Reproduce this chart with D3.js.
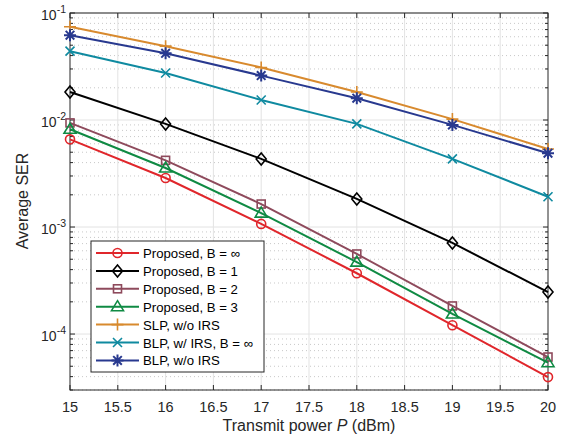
<!DOCTYPE html>
<html><head><meta charset="utf-8">
<script src="https://cdn.jsdelivr.net/npm/d3@7"></script>
<style>body{margin:0;background:#fff;} text{font-family:Arial,"Liberation Sans",sans-serif;}</style>
</head><body>
<svg id="c" width="566" height="441"></svg>
<script>
const powers = [15, 16, 17, 18, 19, 20];
const seriesNames = ["Proposed, B = \u221E", "Proposed, B = 1", "Proposed, B = 2", "Proposed, B = 3", "SLP, w/o IRS", "BLP, w/ IRS, B = \u221E", "BLP, w/o IRS"];
const propInf = [6.6e-3, 2.87e-3, 1.07e-3, 3.7e-4, 1.21e-4, 3.96e-5];
const propB1  = [1.83e-2, 9.2e-3, 4.33e-3, 1.83e-3, 7.1e-4, 2.47e-4];
const propB2  = [9.4e-3, 4.2e-3, 1.64e-3, 5.6e-4, 1.83e-4, 6.1e-5];
const propB3  = [8.2e-3, 3.56e-3, 1.35e-3, 4.7e-4, 1.54e-4, 5.4e-5];
const slpNoIrs = [7.45e-2, 4.9e-2, 3.1e-2, 1.83e-2, 1.02e-2, 5.36e-3];
const blpIrs   = [4.4e-2, 2.75e-2, 1.54e-2, 9.2e-3, 4.33e-3, 1.92e-3];
const blpNoIrs = [6.2e-2, 4.2e-2, 2.6e-2, 1.6e-2, 9.0e-3, 4.9e-3];
const xTicks = [15, 15.5, 16, 16.5, 17, 17.5, 18, 18.5, 19, 19.5, 20];
const yDecades = [-4, -3, -2, -1];
const colors = ["#e0262b", "#000000", "#8e4a5c", "#0f8a43", "#d88a2e", "#0f8aa0", "#28398f"];
const markers = ["circle", "diamond", "square", "triangle", "plus", "cross", "star"];
const allSeries = [propInf, propB1, propB2, propB3, slpNoIrs, blpIrs, blpNoIrs];

const svg = d3.select("#c");
const L = 70, R = 548, T = 13, B = 390;
const x = d3.scaleLinear().domain([15, 20]).range([L, R]);
const y = d3.scaleLog().domain([3e-5, 0.1]).range([B, T]);

// minor dotted grid
const minor = [];
for (let e = -5; e <= -2; e++) for (let m = 2; m <= 9; m++) { const v = m * Math.pow(10, e); if (v >= 3e-5 && v < 0.1) minor.push(v); }
svg.append("g").selectAll("line").data(minor).join("line")
  .attr("x1", L).attr("x2", R).attr("y1", d => y(d)).attr("y2", d => y(d))
  .attr("stroke", "#c8c8c8").attr("stroke-width", 1).attr("stroke-dasharray", "1,3");
// major grid
svg.append("g").selectAll("line").data(yDecades).join("line")
  .attr("x1", L).attr("x2", R).attr("y1", d => y(Math.pow(10, d))).attr("y2", d => y(Math.pow(10, d)))
  .attr("stroke", "#e3e3e3").attr("stroke-width", 1);
svg.append("g").selectAll("line").data(xTicks.slice(1, -1)).join("line")
  .attr("x1", d => x(d)).attr("x2", d => x(d)).attr("y1", T).attr("y2", B)
  .attr("stroke", "#e3e3e3").attr("stroke-width", 1);

// axes
const ax = svg.append("g").attr("stroke", "#262626").attr("stroke-width", 1);
ax.append("rect").attr("x", L).attr("y", T).attr("width", R - L).attr("height", B - T).attr("fill", "none");
ax.selectAll(".xt").data(xTicks).join("g").each(function(d){
  const g = d3.select(this);
  g.append("line").attr("x1", x(d)).attr("x2", x(d)).attr("y1", B).attr("y2", B - 5);
  g.append("line").attr("x1", x(d)).attr("x2", x(d)).attr("y1", T).attr("y2", T + 5);
});
const yt = [...minor, ...yDecades.map(e => Math.pow(10, e))];
ax.selectAll(".yt").data(yt).join("g").each(function(d){
  const g = d3.select(this); const isMaj = Math.abs(Math.log10(d) - Math.round(Math.log10(d))) < 1e-6;
  const len = isMaj ? 5 : 3;
  g.append("line").attr("x1", L).attr("x2", L + len).attr("y1", y(d)).attr("y2", y(d));
  g.append("line").attr("x1", R).attr("x2", R - len).attr("y1", y(d)).attr("y2", y(d));
});

// tick labels
svg.append("g").selectAll("text").data(xTicks).join("text")
  .attr("x", d => x(d)).attr("y", 412).attr("text-anchor", "middle")
  .attr("font-size", 14.5).attr("fill", "#262626").text(d => d);
const ylab = svg.append("g").selectAll("text").data(yDecades).join("text")
  .attr("x", 66).attr("y", d => y(Math.pow(10, d)) + 7).attr("text-anchor", "end")
  .attr("font-size", 14).attr("fill", "#262626");
ylab.append("tspan").text("10");
ylab.append("tspan").attr("dy", -7).attr("font-size", 10.5).text(d => d);

// axis titles
const xt = svg.append("text").attr("x", 309).attr("y", 431).attr("text-anchor", "middle")
  .attr("font-size", 16).attr("fill", "#262626");
xt.append("tspan").text("Transmit power ");
xt.append("tspan").attr("font-style", "italic").text("P");
xt.append("tspan").text(" (dBm)");
svg.append("text").attr("transform", "translate(28,201) rotate(-90)").attr("text-anchor", "middle")
  .attr("font-size", 16).attr("fill", "#262626").text("Average SER");

function drawMarker(g, type, cx, cy, color) {
  const s = 4.5;
  const common = {stroke: color, "stroke-width": 1.6, fill: "none"};
  let el;
  if (type === "circle") el = g.append("circle").attr("cx", cx).attr("cy", cy).attr("r", s);
  else if (type === "diamond") el = g.append("path").attr("d", `M${cx},${cy-6}L${cx+5},${cy}L${cx},${cy+6}L${cx-5},${cy}Z`);
  else if (type === "square") el = g.append("rect").attr("x", cx-4).attr("y", cy-4).attr("width", 8).attr("height", 8);
  else if (type === "triangle") el = g.append("path").attr("d", `M${cx},${cy-6}L${cx+6},${cy+4}L${cx-6},${cy+4}Z`);
  else if (type === "plus") el = g.append("path").attr("d", `M${cx-6},${cy}H${cx+6}M${cx},${cy-6}V${cy+6}`);
  else if (type === "cross") el = g.append("path").attr("d", `M${cx-4.5},${cy-4.5}L${cx+4.5},${cy+4.5}M${cx-4.5},${cy+4.5}L${cx+4.5},${cy-4.5}`);
  else if (type === "star") el = g.append("path").attr("d", `M${cx-6},${cy}H${cx+6}M${cx},${cy-6}V${cy+6}M${cx-4.3},${cy-4.3}L${cx+4.3},${cy+4.3}M${cx-4.3},${cy+4.3}L${cx+4.3},${cy-4.3}`);
  for (const k in common) el.attr(k, common[k]);
  if (type === "star") el.attr("stroke-width", 2);
}

const line = d3.line().x((d, i) => x(powers[i])).y(d => y(d));
const plot = svg.append("g");
allSeries.forEach((s, k) => {
  plot.append("path").attr("d", line(s)).attr("fill", "none").attr("stroke", colors[k]).attr("stroke-width", 2);
  s.forEach((v, i) => drawMarker(plot, markers[k], x(powers[i]), y(v), colors[k]));
});

// legend
const lg = svg.append("g");
lg.append("rect").attr("x", 91).attr("y", 241).attr("width", 173).attr("height", 131)
  .attr("fill", "#fff").attr("stroke", "#262626").attr("stroke-width", 1);
seriesNames.forEach((n, k) => {
  const yy = 253 + k * 17.9;
  lg.append("line").attr("x1", 96).attr("x2", 139).attr("y1", yy).attr("y2", yy).attr("stroke", colors[k]).attr("stroke-width", 2);
  drawMarker(lg, markers[k], 117.5, yy, colors[k]);
  lg.append("text").attr("x", 143).attr("y", yy + 5).attr("font-size", 13.2).attr("fill", "#000").text(n);
});
</script>
</body></html>
